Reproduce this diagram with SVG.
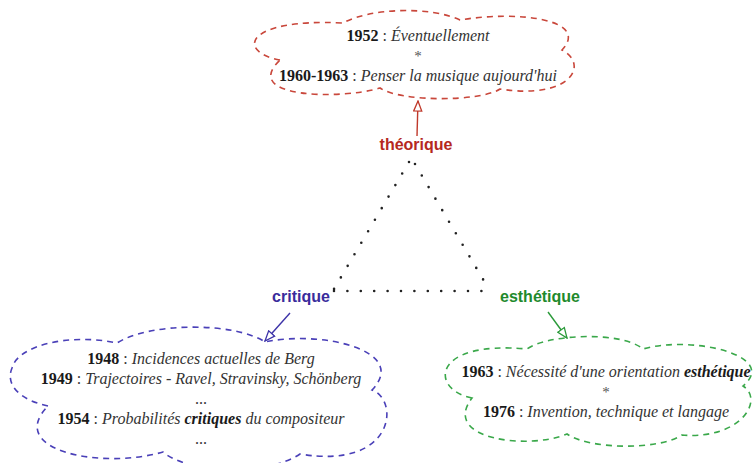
<svg xmlns="http://www.w3.org/2000/svg" width="754" height="463" viewBox="0 0 754 463">
  <style>
    .cloud { fill: none; stroke-width: 1.6; stroke-dasharray: 6 5; }
    .txt { font-family: "Liberation Serif", "Times New Roman", serif; font-size: 16px; text-anchor: middle; fill: #333; }
    .yr { font-weight: bold; font-style: normal; fill: #1a1a1a; }
    .ti { font-style: italic; }
    .em { font-weight: bold; font-style: italic; fill: #1a1a1a; }
    .sep { font-family: "Liberation Serif", "Times New Roman", serif; font-size: 15px; text-anchor: middle; fill: #555; }
    .lbl { font-family: "Liberation Sans", Arial, sans-serif; font-size: 16px; font-weight: bold; text-anchor: middle; }
    .dots { fill: none; stroke: #222; stroke-width: 2.6; stroke-linecap: round; stroke-dasharray: 0 13.4; }
    .arr { fill: none; stroke-width: 1.4; }
  </style>
  <defs>
    <marker id="headRed" viewBox="0 0 12 10" refX="11" refY="5" markerWidth="12" markerHeight="10" markerUnits="userSpaceOnUse" orient="auto">
      <path d="M1,1 L11,5 L1,9 Z" fill="#fff" stroke="#c0392b" stroke-width="1.3"/>
    </marker>
    <marker id="headBlue" viewBox="0 0 12 10" refX="11" refY="5" markerWidth="12" markerHeight="10" markerUnits="userSpaceOnUse" orient="auto">
      <path d="M1,1 L11,5 L1,9 Z" fill="#fff" stroke="#3d33a8" stroke-width="1.3"/>
    </marker>
    <marker id="headGreen" viewBox="0 0 12 10" refX="11" refY="5" markerWidth="12" markerHeight="10" markerUnits="userSpaceOnUse" orient="auto">
      <path d="M1,1 L11,5 L1,9 Z" fill="#fff" stroke="#2a9a3a" stroke-width="1.3"/>
    </marker>
  </defs>

  <!-- theoretical writings -->
  <g id="node-theorique-works">
    <path class="cloud" stroke="#c9473b" d="M280,60 C236,52 244,18 343,23 C370,8 430,6 460,20 C520,10 590,20 562,50 C590,65 570,100 500,89 C480,102 400,102 380,88 C340,100 240,98 280,60 Z"/>
    <text class="txt" x="418" y="41"><tspan class="yr">1952</tspan> : <tspan class="ti">Éventuellement</tspan></text>
    <text class="sep" x="418" y="61">*</text>
    <text class="txt" x="418" y="81"><tspan class="yr">1960-1963</tspan> : <tspan class="ti">Penser la musique aujourd'hui</tspan></text>
  </g>

  <!-- critical writings -->
  <g id="node-critique-works">
    <path class="cloud" stroke="#4a40b8" d="M48,406 C20,400 5,385 12,368 C18,345 70,333 117,343 C150,322 235,322 265,342 C320,330 410,350 372,390 C400,400 395,470 300,454 C270,475 190,475 163,452 C100,470 5,450 48,406 Z"/>
    <text class="txt" x="201" y="364"><tspan class="yr">1948</tspan> : <tspan class="ti">Incidences actuelles de Berg</tspan></text>
    <text class="txt" x="201" y="384"><tspan class="yr">1949</tspan> : <tspan class="ti">Trajectoires - Ravel, Stravinsky, Schönberg</tspan></text>
    <text class="txt" x="201" y="404">...</text>
    <text class="txt" x="201" y="424"><tspan class="yr">1954</tspan> : <tspan class="ti">Probabilités </tspan><tspan class="em">critiques</tspan><tspan class="ti"> du compositeur</tspan></text>
    <text class="txt" x="201" y="444">...</text>
  </g>

  <!-- aesthetic writings -->
  <g id="node-esthetique-works">
    <path class="cloud" stroke="#3aa84a" d="M472,398 C430,390 430,340 527,349 C545,335 620,330 643,349 C690,335 780,355 743,386 C765,400 740,440 682,435 C660,450 590,450 567,434 C530,450 440,440 472,398 Z"/>
    <text class="txt" x="606" y="377"><tspan class="yr">1963</tspan> : <tspan class="ti">Nécessité d'une orientation </tspan><tspan class="em">esthétique</tspan></text>
    <text class="sep" x="606" y="397">*</text>
    <text class="txt" x="606" y="417"><tspan class="yr">1976</tspan> : <tspan class="ti">Invention, technique et langage</tspan></text>
  </g>

  <!-- triangle vertices -->
  <g id="node-theorique">
    <text class="lbl" x="416" y="150" fill="#b5281e">théorique</text>
  </g>
  <g id="node-critique">
    <text class="lbl" x="301" y="302" fill="#3a2c9c">critique</text>
  </g>
  <g id="node-esthetique">
    <text class="lbl" x="540" y="302" fill="#1f8a2c">esthétique</text>
  </g>

  <g id="connectors">
    <!-- dotted triangle -->
    <line class="dots" x1="409" y1="162" x2="334" y2="289"/>
    <line class="dots" x1="415" y1="164" x2="484" y2="281"/>
    <line class="dots" x1="334" y1="291" x2="488" y2="291"/>
    <!-- label to writings -->
    <line class="arr" stroke="#c0392b" x1="417" y1="136" x2="418" y2="101" marker-end="url(#headRed)"/>
    <line class="arr" stroke="#3d33a8" x1="290" y1="313" x2="265" y2="341" marker-end="url(#headBlue)"/>
    <line class="arr" stroke="#2a9a3a" x1="548" y1="312" x2="567" y2="338" marker-end="url(#headGreen)"/>
  </g>
</svg>
